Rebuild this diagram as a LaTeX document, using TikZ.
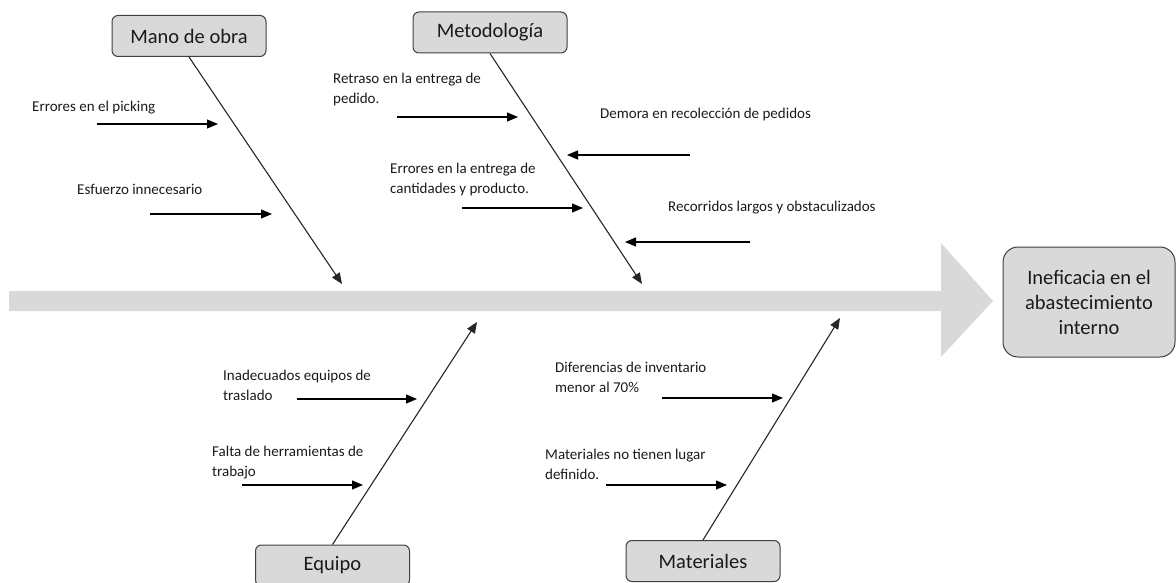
\documentclass[tikz,border=0pt]{standalone}
\usepackage{fontspec}
\setmainfont{Carlito}
\usetikzlibrary{arrows.meta}
\definecolor{boxfill}{HTML}{D9D9D9}
\definecolor{boxline}{HTML}{404040}
\definecolor{spine}{HTML}{D9D9D9}
\definecolor{txt}{HTML}{1A1A1A}
\tikzset{
  catbox/.style={draw=boxline, fill=boxfill, line width=1pt, rounded corners=6pt,
    minimum width=154pt, minimum height=41pt, inner sep=0pt, text=txt,
    font=\fontsize{20.5}{25}\selectfont},
  effbox/.style={draw=boxline, fill=boxfill, line width=1pt, rounded corners=15pt,
    minimum width=172pt, minimum height=110pt, inner sep=0pt, align=center, text=txt,
    font=\fontsize{20.5}{25}\selectfont},
  cause/.style={anchor=west, inner sep=0pt, align=left, text=txt,
    font=\fontsize{15}{20}\selectfont},
  bone/.style={draw=black!85, line width=1.1pt, -{Triangle[length=11pt,width=9pt]}},
  twig/.style={draw=black, line width=1.1pt, -{Triangle[length=11pt,width=9pt]}}
}
\begin{document}
\begin{tikzpicture}[x=1pt,y=-1pt]
\useasboundingbox (0,0) rectangle (1176,583);
% spine
\fill[spine] (9,291) -- (941,291) -- (941,243) -- (993,301) -- (941,357) -- (941,311) -- (9,311) -- cycle;
% effect
\node[effbox] (eff) at (1089,302) {Ineficacia en el\\abastecimiento\\interno};
% categories
\node[catbox] (mano) at (189,36) {Mano de obra};
\node[catbox] (met) at (490,32.5) {Metodología};
\node[catbox] (equ) at (332.5,565.5) {Equipo};
\node[catbox] (mat) at (703,561) {Materiales};
% bone tips
\coordinate (tmano) at (342,284);
\coordinate (tmet) at (642,284);
\coordinate (tequ) at (477,322);
\coordinate (tmat) at (840,318);
\draw[bone] (mano.south) -- (tmano);
\draw[bone] (met.south) -- (tmet);
\draw[bone] (equ.north) -- (tequ);
\draw[bone] (mat.north) -- (tmat);
% cause texts
\node[cause] (c1) at (32,108) {Errores en el picking};
\node[cause] (c2) at (77,189) {Esfuerzo innecesario};
\node[cause] (c3) at (333,90) {Retraso en la entrega de\\pedido.};
\node[cause] (c4) at (600,115) {Demora en recolección de pedidos};
\node[cause] (c5) at (390,180) {Errores en la entrega de\\cantidades y producto.};
\node[cause] (c6) at (668,208) {Recorridos largos y obstaculizados};
\node[cause] (c7) at (223,385) {Inadecuados equipos de\\traslado};
\node[cause] (c8) at (212,463) {Falta de herramientas de\\trabajo};
\node[cause] (c9) at (555,377) {Diferencias de inventario\\menor al 70\%};
\node[cause] (c10) at (545,464) {Materiales no tienen lugar\\definido.};
% cause arrows
\coordinate (a1s) at (97,124);   \coordinate (a1e) at (218,124);
\coordinate (a2s) at (150,214);  \coordinate (a2e) at (272,214);
\coordinate (a3s) at (397,117);  \coordinate (a3e) at (518,117);
\coordinate (a4s) at (690,155);  \coordinate (a4e) at (567,155);
\coordinate (a5s) at (462,208);  \coordinate (a5e) at (583,208);
\coordinate (a6s) at (750,242);  \coordinate (a6e) at (625,242);
\coordinate (a7s) at (297,399);  \coordinate (a7e) at (417,399);
\coordinate (a8s) at (242,485);  \coordinate (a8e) at (363,485);
\coordinate (a9s) at (662,398);  \coordinate (a9e) at (783,398);
\coordinate (a10s) at (606,485); \coordinate (a10e) at (727,485);
\foreach \i in {1,...,10} {\draw[twig] (a\i s) -- (a\i e);}
\end{tikzpicture}
\end{document}
